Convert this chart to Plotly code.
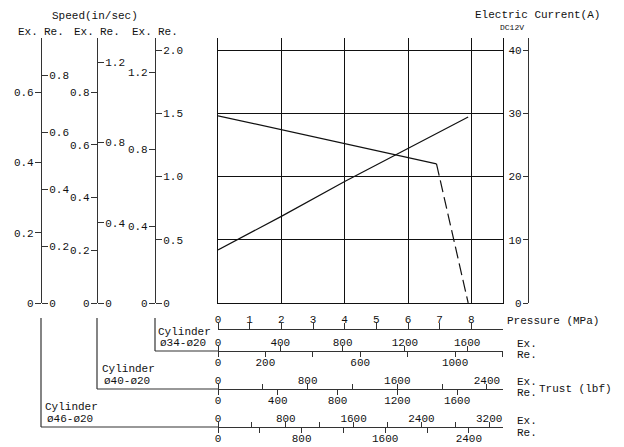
import plotly.graph_objects as go

OFF = 8                      # page body margin
W, H = 624 - OFF, 447 - OFF  # figure size that fills the window exactly


def px(x):
    return (x - OFF) / W


def py(y):
    return 1 - (y - OFF) / H


# ---------------- data ----------------
pressure_ticks = [0, 1, 2, 3, 4, 5, 6, 7, 8]
pressure_max = 9.0

# speed curve (read on the ø34 "Re." speed scale, in/sec)
speed_pressure = [0, 6.9]
speed_values = [1.48, 1.10]
speed_drop_pressure = [6.9, 7.9]
speed_drop_values = [1.10, 0.0]

# electric current curve (A)
current_pressure = [0, 2, 4, 6, 7.9]
current_values = [8.4, 13.7, 19.2, 24.4, 29.4]
current_ticks = [0, 10, 20, 30, 40]
current_max = 41.9

# speed scales (in/sec)  -- ø46, ø40, ø34
spd46_ex_ticks = [0, 0.2, 0.4, 0.6]
spd46_re_ticks = [0, 0.2, 0.4, 0.6, 0.8]
spd40_ex_ticks = [0, 0.2, 0.4, 0.6, 0.8]
spd40_re_ticks = [0, 0.4, 0.8, 1.2]
spd34_ex_ticks = [0, 0.4, 0.8, 1.2]
spd34_re_ticks = [0, 0.5, 1.0, 1.5, 2.0]
spd46_ex_max, spd46_re_max = 0.755, 0.930
spd40_ex_max, spd40_re_max = 1.005, 1.32
spd34_ex_max, spd34_re_max = 1.377, 2.095

# thrust scales (lbf)
thr34_ex_ticks = [0, 400, 800, 1200, 1600]
thr34_ex_labels = ["0", "400", "800", "1200", "1600"]
thr34_re_ticks = [0, 200, 400, 600, 800, 1000, 1200]
thr34_re_labels = ["0", "200", "", "600", "", "1000", ""]
thr40_ex_ticks = [0, 400, 800, 1200, 1600, 2000, 2400]
thr40_ex_labels = ["0", "", "800", "", "1600", "", "2400"]
thr40_re_ticks = [0, 400, 800, 1200, 1600]
thr40_re_labels = ["0", "400", "800", "1200", "1600"]
thr46_ex_ticks = [0, 400, 800, 1200, 1600, 2000, 2400, 2800, 3200]
thr46_ex_labels = ["0", "", "800", "", "1600", "", "2400", "", "3200"]
thr46_re_ticks = [0, 400, 800, 1200, 1600, 2000, 2400]
thr46_re_labels = ["0", "", "800", "", "1600", "", "2400"]
thr34_ex_max, thr34_re_max = 1830, 1202
thr40_ex_max, thr40_re_max = 2543, 1907
thr46_ex_max, thr46_re_max = 3363, 2727

# ---------------- style ----------------
FONT = "Liberation Mono, DejaVu Sans Mono, monospace"
INK = "#111"
AX = "#333"
TICKF = dict(family=FONT, size=11, color=INK)


def lbl(vals):
    out = []
    for v in vals:
        if v == 0:
            out.append("0")
        elif isinstance(v, float):
            out.append("%.1f" % v)
        else:
            out.append(str(v))
    return out


fig = go.Figure()

# main curves
fig.add_trace(go.Scatter(x=speed_pressure, y=speed_values, xaxis="x", yaxis="y8",
                         mode="lines", line=dict(color=INK, width=1.2),
                         showlegend=False, hoverinfo="skip"))
fig.add_trace(go.Scatter(x=speed_drop_pressure, y=speed_drop_values, xaxis="x", yaxis="y8",
                         mode="lines", line=dict(color=INK, width=1.2, dash="12px,5px"),
                         showlegend=False, hoverinfo="skip"))
fig.add_trace(go.Scatter(x=current_pressure, y=current_values, xaxis="x", yaxis="y2",
                         mode="lines", line=dict(color=INK, width=1.2),
                         showlegend=False, hoverinfo="skip"))

# empty traces so every free axis gets a subplot
for ya in ["y", "y3", "y4", "y5", "y6", "y7"]:
    fig.add_trace(go.Scatter(x=[None], y=[None], xaxis="x", yaxis=ya, mode="lines",
                             showlegend=False, hoverinfo="skip"))
for xa in ["x2", "x3", "x4", "x5", "x6", "x7", "x8"]:
    fig.add_trace(go.Scatter(x=[None], y=[None], xaxis=xa, yaxis="y", mode="lines",
                             showlegend=False, hoverinfo="skip"))

base_free = dict(showgrid=False, zeroline=False, tickfont=TICKF, linecolor=AX,
                 linewidth=1.2, tickcolor=AX, tickwidth=1.2, ticks="outside",
                 tickmode="array", fixedrange=True)
XSO = -4   # pull x tick labels close to their ticks
YSO = -1

layout = dict(
    width=W, height=H, autosize=False,
    margin=dict(l=0, r=0, t=0, b=0, pad=0),
    template="none",
    paper_bgcolor="white", plot_bgcolor="white",
    showlegend=False,
    xaxis=dict(domain=[px(218), px(503)], range=[0, pressure_max], anchor="y",
               tickmode="array", tickvals=[0, 2, 4, 6, 8], showgrid=True,
               gridcolor=INK, gridwidth=1.2, showticklabels=False, ticks="",
               showline=True, linecolor=INK, linewidth=1.2, zeroline=False),
    yaxis=dict(domain=[py(303), py(38)], range=[0, current_max], anchor="x",
               tickmode="array", tickvals=[10, 20, 30, 40], showgrid=True,
               gridcolor=INK, gridwidth=1.2, showticklabels=False, ticks="",
               showline=True, mirror=True, linecolor=INK, linewidth=1.2, zeroline=False),
    # current axis
    yaxis2=dict(base_free, overlaying="y", anchor="free", position=px(528), side="left",
                range=[0, current_max], tickvals=current_ticks, ticktext=lbl(current_ticks),
                ticklen=5, showline=True, ticklabelstandoff=YSO),
    # speed ø46
    yaxis3=dict(base_free, overlaying="y", anchor="free", position=px(41), side="left",
                range=[0, spd46_ex_max], tickvals=spd46_ex_ticks, ticktext=lbl(spd46_ex_ticks),
                ticklen=6, showline=True, ticklabelstandoff=YSO),
    yaxis4=dict(base_free, overlaying="y", anchor="free", position=px(41), side="right",
                range=[0, spd46_re_max], tickvals=spd46_re_ticks, ticktext=lbl(spd46_re_ticks),
                ticklen=6, showline=False, ticklabelstandoff=YSO),
    # speed ø40
    yaxis5=dict(base_free, overlaying="y", anchor="free", position=px(97), side="left",
                range=[0, spd40_ex_max], tickvals=spd40_ex_ticks, ticktext=lbl(spd40_ex_ticks),
                ticklen=6, showline=True, ticklabelstandoff=YSO),
    yaxis6=dict(base_free, overlaying="y", anchor="free", position=px(97), side="right",
                range=[0, spd40_re_max], tickvals=spd40_re_ticks, ticktext=lbl(spd40_re_ticks),
                ticklen=6, showline=False, ticklabelstandoff=YSO),
    # speed ø34
    yaxis7=dict(base_free, overlaying="y", anchor="free", position=px(155), side="left",
                range=[0, spd34_ex_max], tickvals=spd34_ex_ticks, ticktext=lbl(spd34_ex_ticks),
                ticklen=6, showline=True, ticklabelstandoff=YSO),
    yaxis8=dict(base_free, overlaying="y", anchor="free", position=px(155), side="right",
                range=[0, spd34_re_max], tickvals=spd34_re_ticks, ticktext=lbl(spd34_re_ticks),
                ticklen=6, showline=False, ticklabelstandoff=YSO),
    # pressure axis
    xaxis2=dict(base_free, overlaying="x", anchor="free", position=py(329), side="top",
                range=[0, pressure_max], tickvals=pressure_ticks,
                ticktext=[str(v) for v in pressure_ticks], ticklen=6, showline=True,
                ticklabelstandoff=XSO),
    # thrust ø34
    xaxis3=dict(base_free, overlaying="x", anchor="free", position=py(351), side="top",
                range=[0, thr34_ex_max], tickvals=thr34_ex_ticks, ticktext=thr34_ex_labels,
                ticklen=5, showline=True, ticklabelstandoff=XSO),
    xaxis4=dict(base_free, overlaying="x", anchor="free", position=py(351), side="bottom",
                range=[0, thr34_re_max], tickvals=thr34_re_ticks, ticktext=thr34_re_labels,
                ticklen=5, showline=False, ticklabelstandoff=XSO),
    # thrust ø40
    xaxis5=dict(base_free, overlaying="x", anchor="free", position=py(389), side="top",
                range=[0, thr40_ex_max], tickvals=thr40_ex_ticks, ticktext=thr40_ex_labels,
                ticklen=5, showline=True, ticklabelstandoff=XSO),
    xaxis6=dict(base_free, overlaying="x", anchor="free", position=py(389), side="bottom",
                range=[0, thr40_re_max], tickvals=thr40_re_ticks, ticktext=thr40_re_labels,
                ticklen=5, showline=False, ticklabelstandoff=XSO),
    # thrust ø46
    xaxis7=dict(base_free, overlaying="x", anchor="free", position=py(427), side="top",
                range=[0, thr46_ex_max], tickvals=thr46_ex_ticks, ticktext=thr46_ex_labels,
                ticklen=5, showline=True, ticklabelstandoff=XSO),
    xaxis8=dict(base_free, overlaying="x", anchor="free", position=py(427), side="bottom",
                range=[0, thr46_re_max], tickvals=thr46_re_ticks, ticktext=thr46_re_labels,
                ticklen=5, showline=False, ticklabelstandoff=XSO),
)
fig.update_layout(**layout)

# bracket lines for the cylinder labels
shapes = []
for bx, by in [(155, 351), (97, 389), (41, 427)]:
    shapes.append(dict(type="line", xref="paper", yref="paper", x0=px(bx), x1=px(bx),
                       y0=py(318), y1=py(by), line=dict(color=AX, width=1.2)))
    shapes.append(dict(type="line", xref="paper", yref="paper", x0=px(bx), x1=px(218),
                       y0=py(by), y1=py(by), line=dict(color=AX, width=1.2)))
fig.update_layout(shapes=shapes)


def ann(text, x, y, xanchor="left", size=11):
    return dict(text=text, x=px(x), y=py(y), xref="paper", yref="paper",
                xanchor=xanchor, yanchor="middle", showarrow=False,
                font=dict(family=FONT, size=size, color=INK))


anns = [
    ann("Speed(in/sec)", 95, 16, "center"),
    ann("Electric Current(A)", 537, 15, "center"),
    ann("DC12V", 512, 28, "center", 8),
    ann("Pressure (MPa)", 505, 321),
    ann("Ex.", 515, 344), ann("Re.", 515, 355),
    ann("Ex.", 515, 382), ann("Re.", 515, 393),
    ann("Ex.", 515, 421), ann("Re.", 515, 433),
    ann("Trust (lbf)", 537, 389),
    ann("Cylinder", 156, 332), ann("ø34-ø20", 158, 343),
    ann("Cylinder", 100, 369), ann("ø40-ø20", 102, 381),
    ann("Cylinder", 43, 407), ann("ø46-ø20", 45, 419),
]
for axx in [41, 97, 155]:
    anns.append(ann("Ex.", axx - 1, 32, "right"))
    anns.append(ann("Re.", axx + 1, 32, "left"))
fig.update_layout(annotations=anns)

fig.write_html("out.html")
